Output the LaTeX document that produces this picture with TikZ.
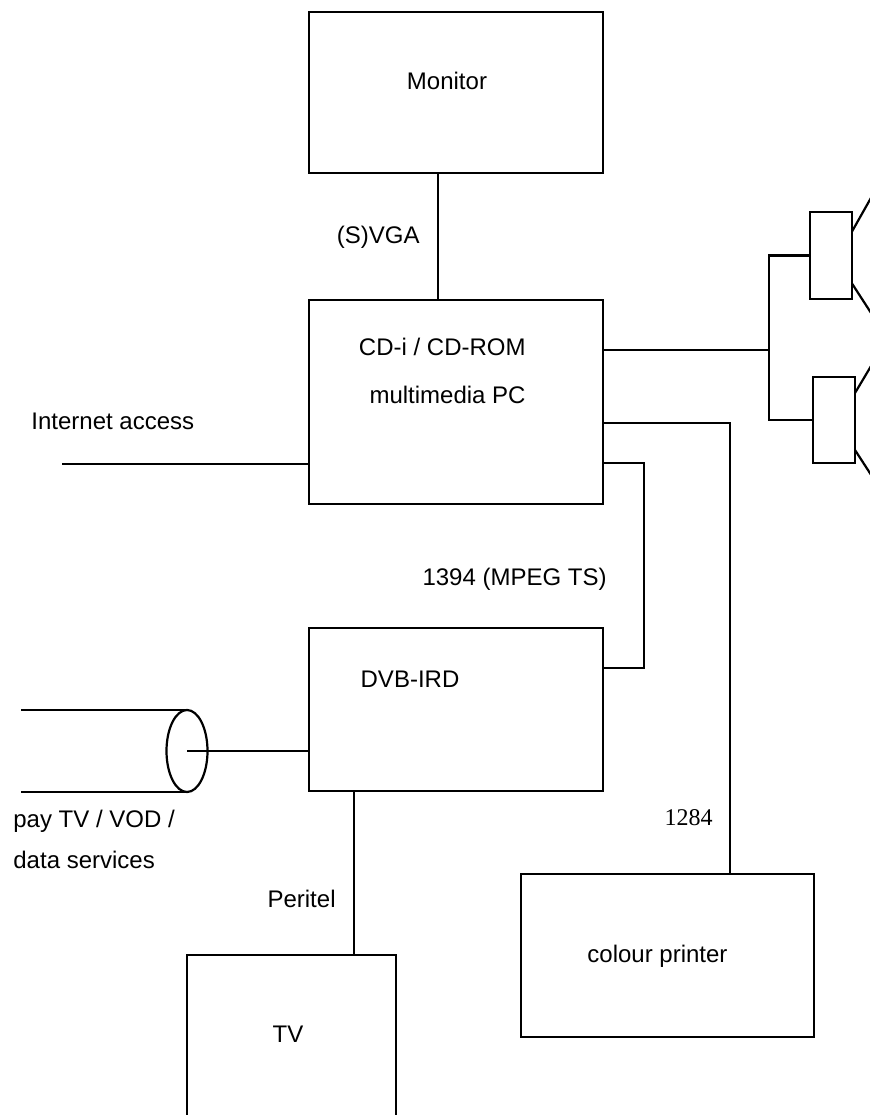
\documentclass[tikz,border=0pt]{standalone}
\usepackage{fontspec}
\setmainfont{Liberation Sans}
\newfontfamily\numserif{Liberation Serif}
\usepackage{tikz}
\usetikzlibrary{calc,shapes.geometric}

\begin{document}
\begin{tikzpicture}[
    x=0.5pt, y=-0.5pt,
    box/.style={draw, line width=1.1pt, inner sep=0pt, outer sep=0pt},
    wire/.style={line width=1.1pt},
    lbl/.style={inner sep=0pt, font=\fontsize{12}{14}\selectfont}
]
\useasboundingbox (0,0) rectangle (870,1115);
\clip (0,0) rectangle (870,1115);

% boxes
\node[box, minimum width=147pt, minimum height=80.5pt] (mon) at (456,92.5) {};
\node[box, minimum width=147pt, minimum height=102pt] (pc) at (456,402) {};
\node[box, minimum width=147pt, minimum height=81.5pt] (dvb) at (456,709.5) {};
\node[box, minimum width=146.5pt, minimum height=81.5pt] (prn) at (667.5,955.5) {};
\node[box, minimum width=104.5pt, minimum height=122.5pt] (tv) at (291.5,1077.5) {};
\node[box, minimum width=21pt, minimum height=43.5pt] (spkA) at (831,255.5) {};
\node[box, minimum width=21pt, minimum height=43pt] (spkB) at (834,420) {};
\node[box, ellipse, minimum width=20.5pt, minimum height=41pt] (cable) at (187,751) {};

% texts
\node[lbl, anchor=base] at (447,89) {Monitor};
\node[lbl, anchor=base east] at (526,355) {CD-i / CD-ROM};
\node[lbl, anchor=base east] at (526,403) {multimedia PC};
\node[lbl, anchor=base] at (410,687) {DVB-IRD};
\node[lbl, anchor=base] at (657.5,962) {colour printer};
\node[lbl, anchor=base] at (288,1042) {TV};
\node[lbl, anchor=base east] at (420,243) {(S)VGA};
\node[lbl, anchor=base west] at (31,429) {Internet access};
\node[lbl, anchor=base east] at (607,585) {1394 (MPEG TS)};
\node[lbl, anchor=base west] at (13,827) {pay TV / VOD /};
\node[lbl, anchor=base west] at (13,868) {data services};
\node[lbl, anchor=base east] at (336,907) {Peritel};
\node[lbl, anchor=base east, font=\numserif\fontsize{12}{14}\selectfont] at (713,825) {1284};

% connections
\coordinate (inet) at (62,464);
\coordinate (spkj) at (769,350);
\draw[wire] ($(mon.south)+(-18,0)$) -- ($(pc.north)+(-18,0)$);
\draw[wire] (inet) -- (inet -| pc.west);
\draw[wire] ($(pc.east)+(0,-52)$) -- (spkj);
\draw[wire] (spkA.west) -| (spkj) |- (spkB.west);
\draw[wire] ($(spkA.east)+(0,-24)$) -- ++(22,-39);
\draw[wire] ($(spkA.east)+(0,28)$) -- ++(22,34);
\draw[wire] ($(spkB.east)+(0,-27)$) -- ++(22,-37);
\draw[wire] ($(spkB.east)+(0,30)$) -- ++(22,34);
\draw[wire] ($(pc.east)+(0,21)$) -| ($(prn.north)+(62.5,0)$);
\draw[wire] ($(pc.east)+(0,61)$) -- ++(41,0) |- ($(dvb.east)+(0,-41.5)$);
\draw[wire] (cable.north) -- ++(-166,0);
\draw[wire] (cable.south) -- ++(-166,0);
\draw[wire] (cable.center) -- (cable.center -| dvb.west);
\draw[wire] ($(dvb.south)+(-102,0)$) -- ($(tv.north)+(62.5,0)$);
\end{tikzpicture}
\end{document}
